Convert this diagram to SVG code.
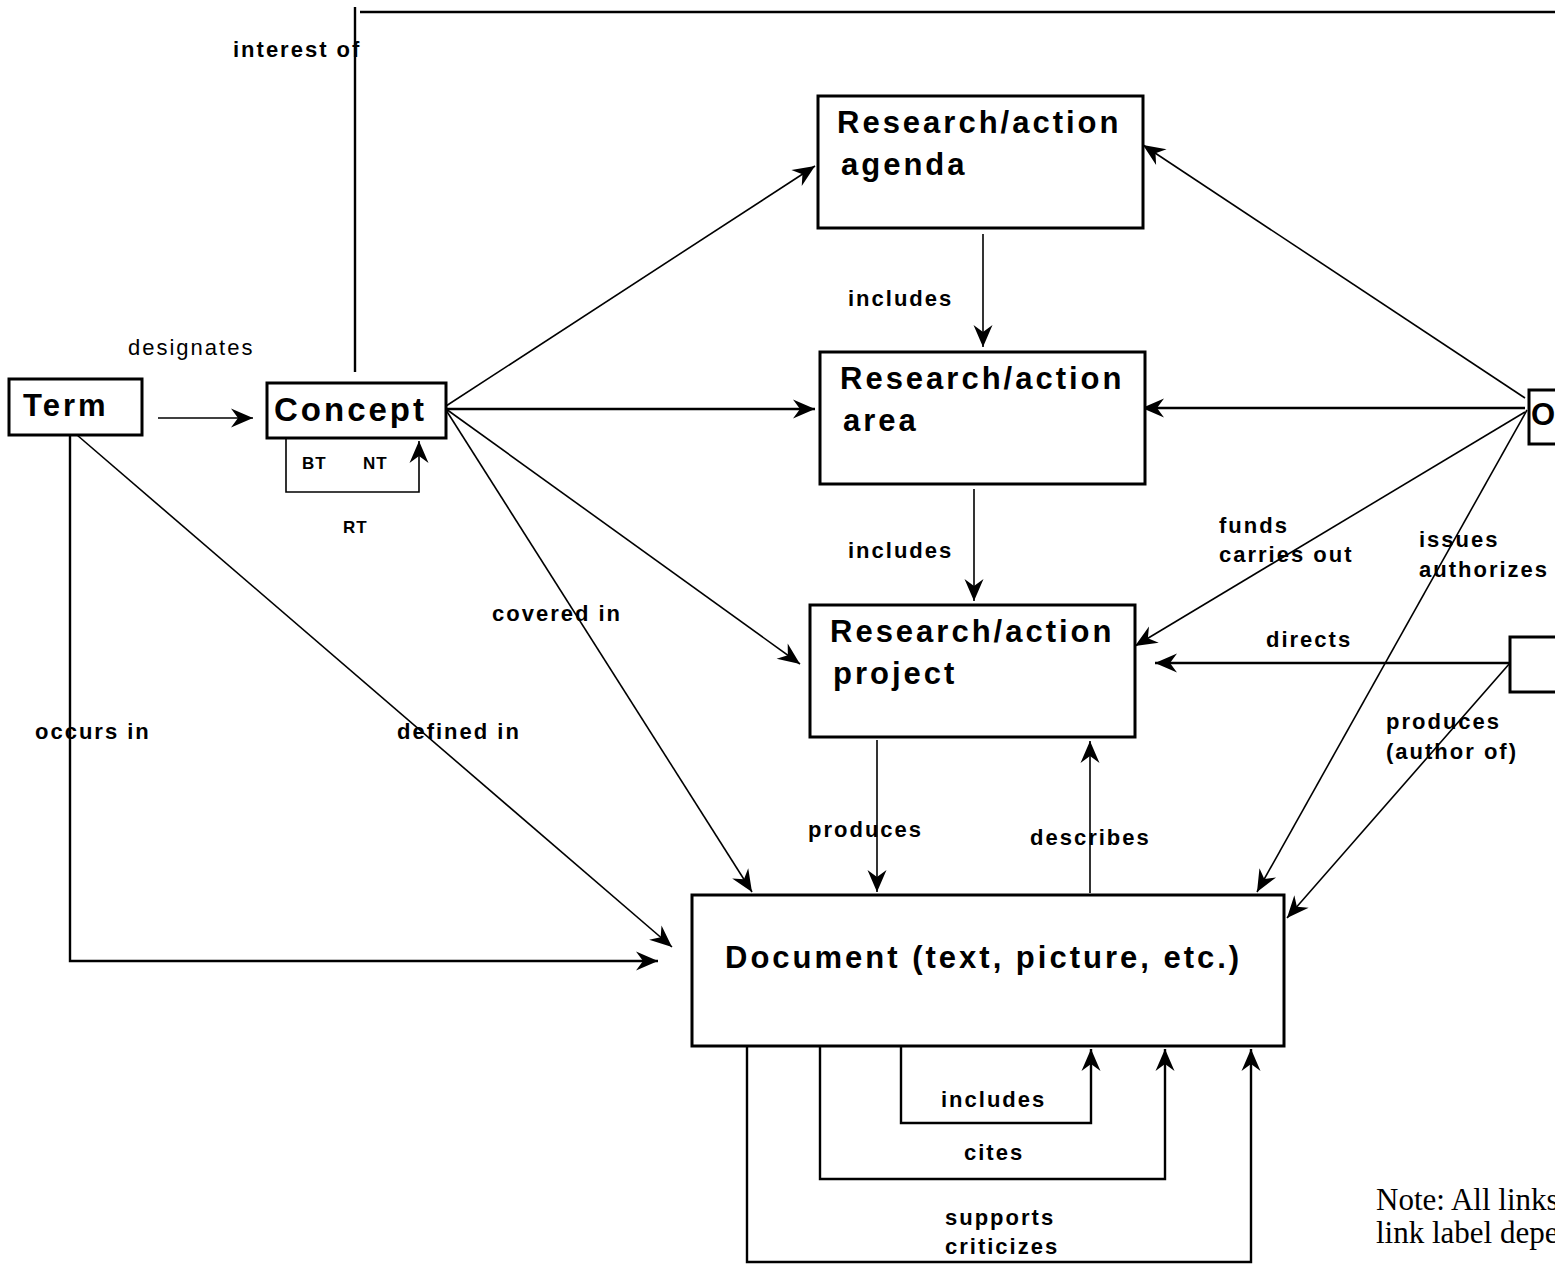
<svg xmlns="http://www.w3.org/2000/svg" width="1555" height="1270" viewBox="0 0 1555 1270">
<style>
.box{fill:#fff;stroke:#000;stroke-width:3}
.node{font-family:"Liberation Sans",Arial,sans-serif;font-weight:bold;font-size:31px;letter-spacing:3px;fill:#000}
.big{font-size:33px}
.lbl{font-family:"Liberation Sans",Arial,sans-serif;font-weight:bold;font-size:22px;letter-spacing:2px;fill:#000}
.nrm{font-weight:normal}
.sm{font-size:17px;letter-spacing:1px}
.note{font-family:"Liberation Serif","Times New Roman",serif;font-size:31px;fill:#000}
.c{fill:none;stroke:#000;stroke-width:1.6}
.c2{stroke-width:2.4}
.a{marker-end:url(#ah)}
</style>
<defs>
<marker id="ah" viewBox="-23 -11 25 22" refX="0" refY="0" markerWidth="25" markerHeight="22" markerUnits="userSpaceOnUse" orient="auto">
<path d="M0,0 L-22,-9.5 L-15,0 L-22,9.5 Z" fill="#000"/>
</marker>
</defs>
<rect width="1555" height="1270" fill="#fff"/>

<g id="connectors">
<!-- interest of -->
<path class="c c2" d="M355,372 V7"/>
<path class="c c2" d="M360,12 H1555"/>
<!-- designates -->
<path class="c a" d="M158,418 H253"/>
<!-- concept self loop -->
<path class="c a" d="M286,438 V492 H419 V441"/>
<!-- concept to agenda/area/project/document -->
<path class="c a" d="M446,406 L815,166"/>
<path class="c c2 a" d="M446,409 H815"/>
<path class="c a" d="M446,409 L800,664"/>
<path class="c a" d="M446,410 L752,892"/>
<!-- term to document -->
<path class="c a" d="M77,435 L672,947"/>
<path class="c c2 a" d="M70,435 V961 H658"/>
<!-- agenda -> area -> project -->
<path class="c a" d="M983,234 V347"/>
<path class="c a" d="M974,489 V601"/>
<!-- project <-> document -->
<path class="c a" d="M877,740 V892"/>
<path class="c a" d="M1090,893 V741"/>
<!-- O links -->
<path class="c a" d="M1525,398 L1143,145"/>
<path class="c c2 a" d="M1525,408 H1142"/>
<path class="c a" d="M1525,412 L1135,646"/>
<path class="c a" d="M1527,410 L1257,892"/>
<!-- right box links -->
<path class="c c2 a" d="M1510,663 H1155"/>
<path class="c a" d="M1510,663 L1287,918"/>
<!-- document self loops -->
<path class="c c2 a" d="M901,1047 V1123 H1091 V1049"/>
<path class="c c2 a" d="M820,1047 V1179 H1165 V1049"/>
<path class="c c2 a" d="M747,1047 V1262 H1251 V1049"/>

<!-- labels -->
<text class="lbl" x="233" y="57">interest of</text>
<text class="lbl nrm" x="128" y="355">designates</text>
<text class="lbl sm" x="302" y="469">BT</text>
<text class="lbl sm" x="363" y="469">NT</text>
<text class="lbl sm" x="343" y="533">RT</text>
<text class="lbl" x="848" y="306">includes</text>
<text class="lbl" x="848" y="558">includes</text>
<text class="lbl" x="492" y="621">covered in</text>
<text class="lbl" x="35" y="739">occurs in</text>
<text class="lbl" x="397" y="739">defined in</text>
<text class="lbl" x="1219" y="533">funds</text>
<text class="lbl" x="1219" y="562">carries out</text>
<text class="lbl" x="1419" y="547">issues</text>
<text class="lbl" x="1419" y="577">authorizes</text>
<text class="lbl" x="1266" y="647">directs</text>
<text class="lbl" x="1386" y="729">produces</text>
<text class="lbl" x="1386" y="759">(author of)</text>
<text class="lbl" x="808" y="837">produces</text>
<text class="lbl" x="1030" y="845">describes</text>
<text class="lbl" x="941" y="1107">includes</text>
<text class="lbl" x="964" y="1160">cites</text>
<text class="lbl" x="945" y="1225">supports</text>
<text class="lbl" x="945" y="1254">criticizes</text>
</g>

<g id="term">
<rect class="box" x="9" y="379" width="133" height="56"/>
<text class="node" x="23" y="416">Term</text>
</g>
<g id="concept">
<rect class="box" x="267" y="383" width="179" height="55"/>
<text class="node big" x="274" y="421">Concept</text>
</g>
<g id="agenda">
<rect class="box" x="818" y="96" width="325" height="132"/>
<text class="node" x="837" y="133">Research/action<tspan x="841" y="175">agenda</tspan></text>
</g>
<g id="area">
<rect class="box" x="820" y="352" width="325" height="132"/>
<text class="node" x="840" y="389">Research/action<tspan x="843" y="431">area</tspan></text>
</g>
<g id="project">
<rect class="box" x="810" y="605" width="325" height="132"/>
<text class="node" x="830" y="642">Research/action<tspan x="833" y="684">project</tspan></text>
</g>
<g id="document">
<rect class="box" x="692" y="895" width="592" height="151"/>
<text class="node" x="725" y="968">Document (text, picture, etc.)</text>
</g>
<g id="organization">
<rect class="box" x="1529" y="390" width="60" height="54"/>
<text class="node" x="1531" y="425">O</text>
</g>
<g id="person">
<rect class="box" x="1510" y="637" width="80" height="55"/>
</g>
<g id="note">
<text class="note" x="1376" y="1210">Note: All links</text>
<text class="note" x="1376" y="1243">link label depe</text>
</g>
</svg>
